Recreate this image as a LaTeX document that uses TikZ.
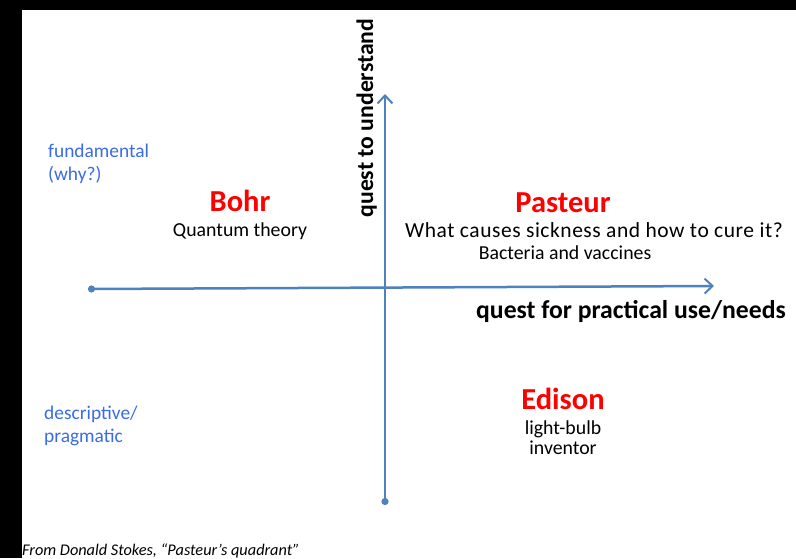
\documentclass[tikz,border=0pt]{standalone}
\usepackage{fontspec}
\setmainfont{Carlito}
\usetikzlibrary{arrows.meta,positioning}
\definecolor{axisblue}{RGB}{79,129,189}
\definecolor{sideblue}{RGB}{58,108,232}

\begin{document}
\begin{tikzpicture}[x=1pt,y=-1pt,
    axis/.style={draw=axisblue,line width=2.5pt,
      {Circle[length=7pt]}-{Straight Barb[length=8pt,width=15pt,line width=2pt]}},
    name node/.style={font=\fontsize{30.5}{32}\selectfont\bfseries,text=red,
      inner sep=0pt,anchor=base},
    note node/.style={font=\fontsize{19.8}{20}\selectfont,align=center,
      inner sep=0pt,anchor=base},
    side node/.style={font=\fontsize{19.4}{22.5}\selectfont,text=sideblue,
      align=left,inner sep=0pt,anchor=base west},
    axis label/.style={font=\bfseries,inner sep=0pt,anchor=base}]
  \fill[black] (0,0) rectangle (796,558);
  \fill[white] (22,10) rectangle (796,558);
  \useasboundingbox (0,0) rectangle (796,558);

  % axes
  \coordinate (west) at (88,289);
  \coordinate (east) at (714,286);
  \coordinate (south) at (385,505);
  \coordinate (north) at (385,94);
  \draw[axis] (west) -- (east);
  \draw[axis] (south) -- (north);
  \node[axis label,rotate=90] (understand) at (373,118)
    {\fontsize{23.7}{25}\selectfont quest to understand};
  \node[axis label] (practical) at (631,318)
    {\fontsize{25.7}{27}\selectfont quest for practical use/needs};

  % quadrants
  \node[name node] (bohr) at (240,211) {Bohr};
  \node[note node] (bohr note) at (240,236) {Quantum theory};
  \node[name node] (pasteur) at (563,212) {Pasteur};
  \node[note node] (pasteur question) at (594,237)
    {\fontsize{21.5}{22}\selectfont\addfontfeature{LetterSpace=2.5}What causes sickness and how to cure it?};
  \node[note node] (pasteur answer) at (565,259) {Bacteria and vaccines};
  \node[name node] (edison) at (563,409) {Edison};
  \node[note node] (edison note) at (563,454) {light-bulb\\inventor};

  % side labels
  \node[side node] (fundamental) at (48,180) {fundamental\\(why?)};
  \node[side node] (descriptive) at (44,442) {descriptive/\\pragmatic};

  \node[font=\fontsize{16.3}{18}\selectfont\itshape,inner sep=0pt,anchor=base west]
    (source) at (22,555) {From Donald Stokes, “Pasteur’s quadrant”};
\end{tikzpicture}
\end{document}
